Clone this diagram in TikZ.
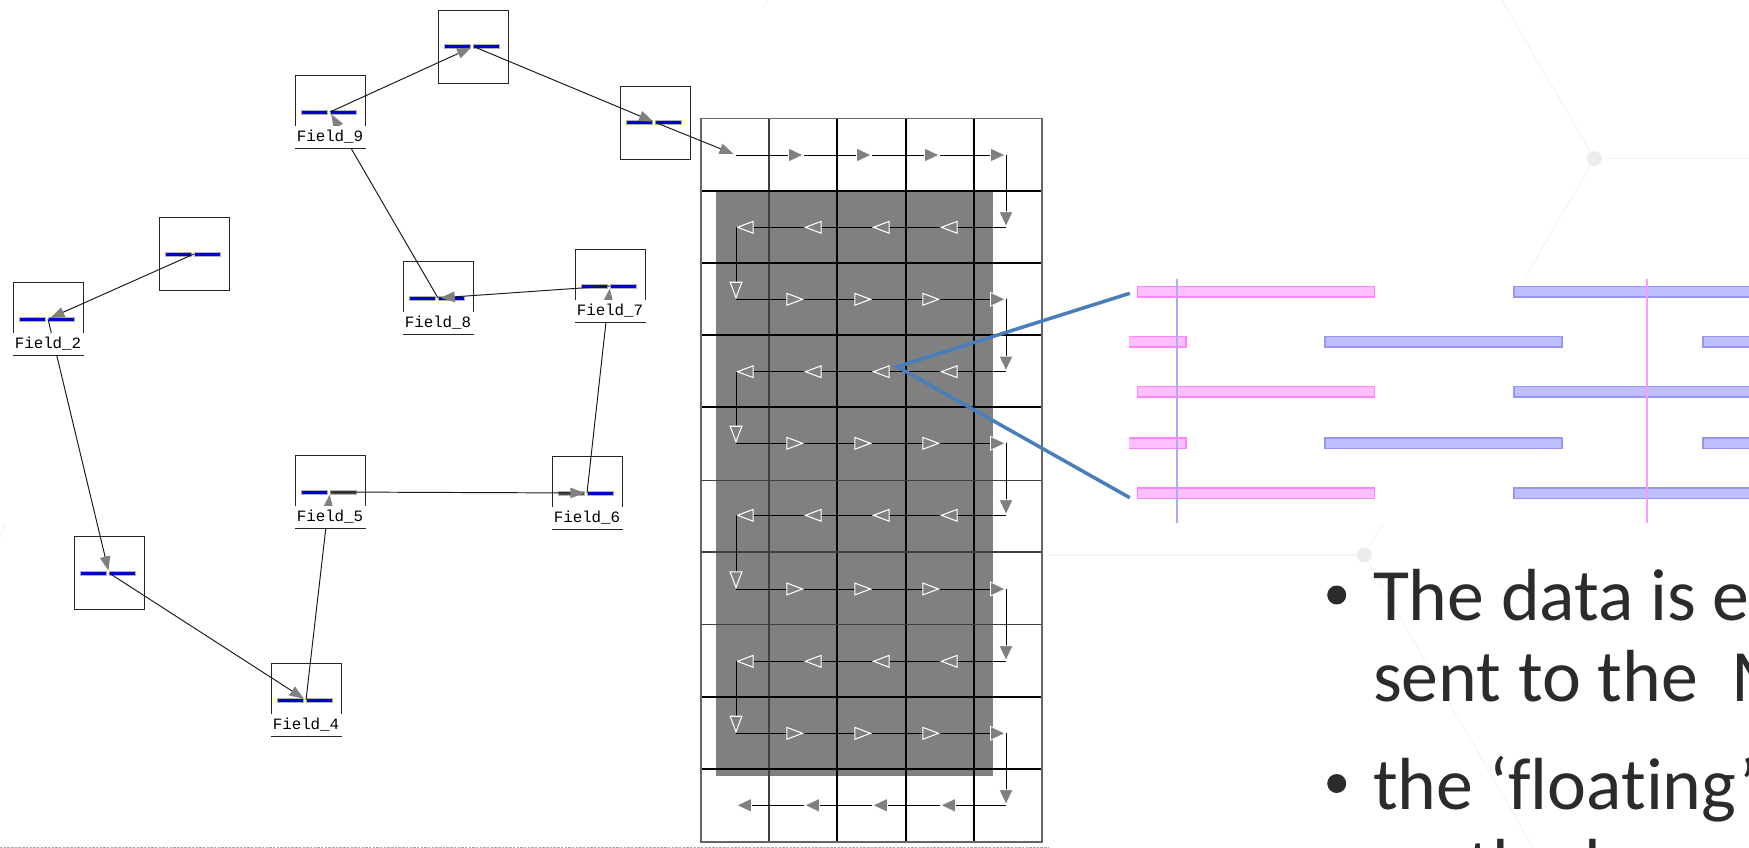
\documentclass[tikz,border=0pt]{standalone}
\usepackage{fontspec}
\setmainfont{Carlito}[Ligatures=NoCommon]
\setmonofont{Liberation Mono}
\usepackage{xcolor}
\usetikzlibrary{arrows.meta,positioning,calc}
\definecolor{wedgeblue}{HTML}{4A7EBB}
\definecolor{hexline}{HTML}{F4F4F4}
\definecolor{hexdot}{HTML}{ECECEC}
\definecolor{slideink}{HTML}{2B2B2B}
\definecolor{pinkfill}{HTML}{FFBFFF}
\definecolor{pinkedge}{HTML}{FF85FF}
\definecolor{pinkline}{HTML}{FF99FF}
\definecolor{bluefill}{HTML}{BFBFFF}
\definecolor{blueedge}{HTML}{9595FA}
\definecolor{blueline}{HTML}{AAAAFF}
\tikzset{
  fieldbox/.style={draw=black!85,line width=.55pt,minimum width=1.4cm,minimum height=1.46cm,inner sep=0pt},
  fieldlabel/.style={fill=white,anchor=south,minimum width=1.44cm,minimum height=.43cm,inner sep=0pt,font=\ttfamily\fontsize{9}{10}\selectfont},
  fieldbar/.style={draw=gray!60,fill=blue!80!black,line width=.55pt},
  fieldarrow/.style={draw=black!90,line width=.55pt,shorten >=1.5pt,-{Triangle[length=8pt,width=6pt,color=gray]}},
  runarrow/.style={draw=black,line width=.55pt,-{Triangle[length=10pt,width=7.4pt,color=white,fill=gray,line width=.6pt]}},
  edgearrow/.style={draw=black,line width=.55pt,-{Triangle[length=9pt,width=8.4pt,color=white,fill=gray,line width=.4pt]}},
  gridthin/.style={draw=black!75,line width=.7pt},
  gridthick/.style={draw=black,line width=1.1pt},
  gridouter/.style={draw=black!60,line width=.7pt},
  hexedge/.style={draw=hexline,line width=.7pt},
  hexnode/.style={circle,fill=hexdot,minimum size=.3cm,inner sep=0pt},
  slidetext/.style={anchor=base west,inner sep=0pt,text=slideink,font=\fontsize{42}{50}\selectfont},
  slidebullet/.style={circle,fill=slideink,minimum size=.38cm,inner sep=0pt},
  wedge/.style={draw=wedgeblue,line width=2pt},
  pinkbar/.style={draw=pinkedge,fill=pinkfill,line width=.9pt},
  bluebar/.style={draw=blueedge,fill=bluefill,line width=.9pt}
}
\begin{document}
\begin{tikzpicture}[x=.02cm,y=-.02cm]
  \useasboundingbox (0,0) rectangle (1749,848);

  \node[hexnode] (hexa) at (1594.3,158.7) {};
  \node[hexnode] (hexb) at (1364.3,555) {};
  \coordinate (hexa1) at (1501.7,0);
  \coordinate (hexa2) at (1749,158.7);
  \coordinate (hexa3) at (1525,278);
  \coordinate (hexb1) at (1048,555);
  \coordinate (hexb2) at (1383,523);
  \coordinate (hexb3) at (1533,848);
  \foreach \a/\b in {hexa/hexa1,hexa/hexa2,hexa/hexa3,hexb/hexb1,hexb/hexb2,hexb/hexb3}
    \draw[hexedge] (\a) -- (\b);
  \draw[hexedge] (768,0) -- (763,8);
  \draw[hexedge] (0,537) -- (5,525);

  \foreach \n/\x/\y in {1/194/254,2/48/319,3/109/573,4/306/700,5/330/492,6/587/493,7/610/286,8/438/298,9/330/112,10/473.5/46.5,11/655.5/122.5} {
    \node[fieldbox] (f\n) at (\x,\y) {};
    \draw[fieldbar] (\x-29,\y-2) rectangle (\x-3,\y+2);
    \draw[fieldbar] (\x,\y-2) rectangle (\x+26,\y+2);
  }
  \draw[fieldbar,fill=black!70] (330,490) rectangle (356,494);
  \draw[fieldbar,fill=black!70] (558,491) rectangle (584,495);

  \foreach \a/\b in {1/2,2/3,3/4,4/5,5/6,6/7,7/8,8/9,9/10,10/11}
    \draw[fieldarrow] (f\a.center) -- (f\b.center);

  \foreach \n in {2,4,5,6,7,8,9}
    \node[fieldlabel] (label\n) at ([yshift=.5pt]f\n.south) {\raisebox{-1.1pt}{Field\_\n}};

  \fill[gray] (716,190.7) rectangle (992.7,776);

  \draw[gridthin] (769,118.3) -- (769,842);
  \foreach \x in {837,905.7,973.7} \draw[gridthick] (\x,118.3) -- (\x,842);
  \foreach \y in {190.7,263.3,335.3,407.3,697,769.3} \draw[gridthick] (701,\y) -- (1042,\y);
  \foreach \y in {480.7,552,624.3} \draw[gridthin] (701,\y) -- (1042,\y);
  \draw[gridouter] (701,118.3) rectangle (1042,842);

  \foreach \rowy [count=\r] in {155,227.3,299.3,371.7,443.3,515.3,589,661.3,733.3,805.3}
    \foreach \tipx [count=\c] in {736,804,872,940,1006}
      \coordinate (n\r-\c) at (\tipx,\rowy);

  \foreach \a/\b in {1/2,2/3,3/4,4/5} {
    \draw[edgearrow] (n1-\a) -- (n1-\b);
    \draw[edgearrow] (n10-\b) -- (n10-\a);
  }
  \foreach \r in {3,5,7,9} {
    \foreach \a/\b in {1/2,2/3,3/4} \draw[runarrow] (n\r-\a) -- (n\r-\b);
    \draw[edgearrow] (n\r-4) -- (n\r-5);
  }
  \foreach \r in {2,4,6,8}
    \foreach \a/\b in {2/1,3/2,4/3,5/4} \draw[runarrow] (n\r-\a) -- (n\r-\b);
  \foreach \r/\s in {1/2,3/4,5/6,7/8,9/10} \draw[edgearrow] (n\r-5) -- (n\s-5);
  \foreach \r/\s in {2/3,4/5,6/7,8/9} \draw[runarrow] (n\r-1) -- (n\s-1);
  \draw[fieldarrow] (f11.center) -- (n1-1);

  \foreach \y in {286.5,386.5,487.8} {
    \draw[pinkbar] (1137.3,\y) rectangle (1374.4,\y+10.6);
    \draw[bluebar] (1514,\y) rectangle (1760,\y+10.6);
  }
  \foreach \y in {336.5,437.9} {
    \fill[pinkfill] (1129.4,\y) rectangle (1185.7,\y+10.6);
    \draw[pinkedge,line width=.9pt] (1129.4,\y) -- (1185.7,\y) -- (1185.7,\y+10.6) -- (1129.4,\y+10.6);
    \draw[bluebar] (1324.8,\y) rectangle (1562,\y+10.6);
    \draw[bluebar] (1703,\y) rectangle (1760,\y+10.6);
  }
  \draw[draw=blueline,line width=1pt] (1177,279) -- (1177,522.7);
  \draw[draw=pinkline,line width=1pt] (1647.2,279) -- (1647.2,522.7);

  \coordinate (apex) at (897.3,366.7);
  \coordinate (wedgetop) at (1129.8,293.3);
  \coordinate (wedgelow) at (1129.8,497.7);
  \draw[wedge] (wedgetop) -- (apex) -- (wedgelow);

  \node[slidebullet] (bulletone) at (1336.7,595) {};
  \node[slidebullet] (bullettwo) at (1336.7,783.5) {};
  \node[slidetext] (lineone) at (1372.7,620.7) {The data is ex};
  \node[slidetext] (linetwo) at (1372.7,701.7) {sent to the\ \ M};
  \node[slidetext] (linethree) at (1372.7,809) {the ‘floating’};
  \node[slidetext] (linefour) at (1372.7,890) {on the b};

  \draw[draw=gray!70,line width=.4pt,dash pattern=on 1.4pt off .7pt] (0,847.2) -- (1048,847.2);
\end{tikzpicture}
\end{document}
